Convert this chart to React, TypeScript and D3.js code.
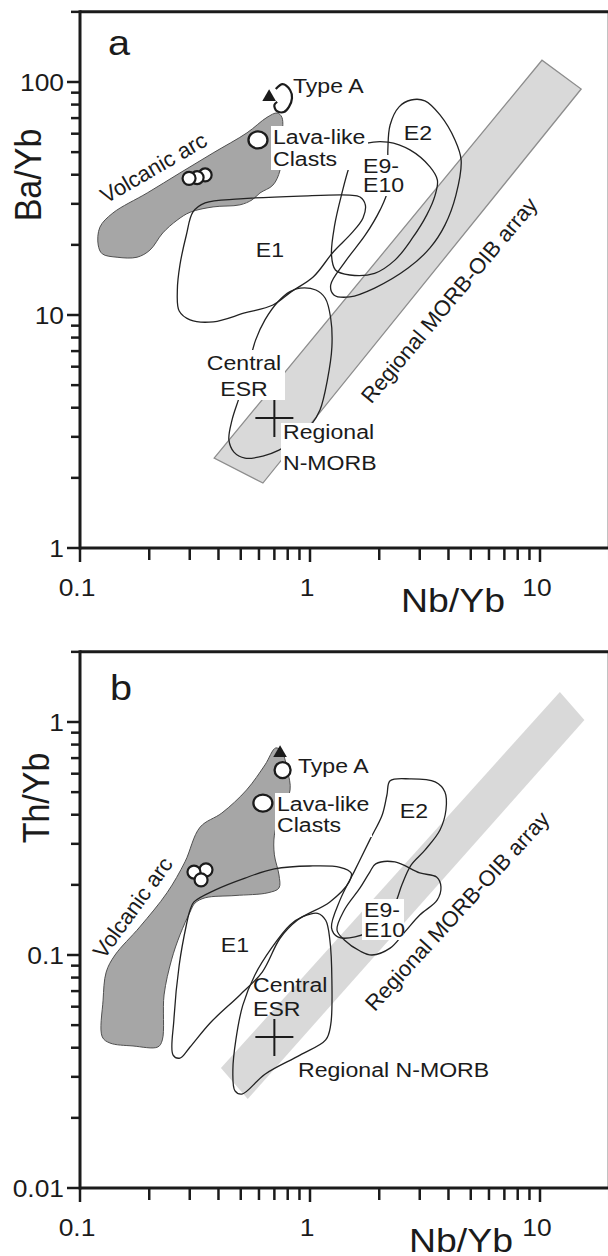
import React, { useRef, useEffect } from 'react';
import * as d3 from 'd3';

type Pt = [number, number];

// shared x axis
const nbYbDomain: [number, number] = [0.1, 20];
const nbYbLabels = [0.1, 1, 10];

// panel a: Ba/Yb
const baYbDomain: [number, number] = [1, 200];
const baYbLabels = [1, 10, 100];

// panel b: Th/Yb
const thYbDomain: [number, number] = [0.01, 2];
const thYbLabels = [0.01, 0.1, 1];

// ---- panel a fields  [Nb/Yb, Ba/Yb]
const morbArrayA: Pt[] = [[0.383, 2.43], [10.2, 124], [15.1, 93.3], [0.624, 1.9]];
const volcanicArcA: Pt[] = [
  [0.12, 19.97], [0.122, 23.8], [0.139, 27.4], [0.196, 33.4], [0.272, 40.7], [0.379, 49.6],
  [0.532, 60.5], [0.65, 70.5], [0.72, 73.6], [0.755, 70.5], [0.755, 56.4], [0.741, 41.9],
  [0.69, 36.1], [0.606, 33.4], [0.56, 31.2], [0.496, 29.7], [0.379, 29.1], [0.301, 27.6],
  [0.264, 25.5], [0.229, 22.5], [0.2015, 19.0], [0.177, 17.7], [0.145, 17.7], [0.125, 18.3],
];
const e1A: Pt[] = [
  [0.31, 27.7], [0.35, 30.3], [0.496, 31.5], [0.905, 32.4], [1.49, 32.7], [1.65, 32.1],
  [1.74, 29.7], [1.7, 26.1], [1.52, 22.5], [1.26, 18.6], [1.035, 14.6], [0.83, 12.6],
  [0.69, 11.04], [0.52, 10.2], [0.38, 9.35], [0.301, 9.53], [0.27, 10.4], [0.265, 12.8],
  [0.272, 16.4], [0.29, 22.05],
];
const e2A: Pt[] = [
  [2.75, 83.7], [3.16, 83], [3.675, 72.2], [4.27, 56.4], [4.54, 46.3], [4.31, 32.7],
  [3.86, 24.3], [3.325, 19.4], [2.67, 15.9], [1.91, 13.05], [1.49, 11.96], [1.27, 12.2],
  [1.23, 13.45], [1.42, 16.9], [1.74, 22.05], [2.015, 28.2], [2.18, 34.4], [2.18, 51.1],
  [2.23, 65.4], [2.44, 78.2],
];
const e910A: Pt[] = [
  [1.61, 52.1], [1.77, 54.6], [2.18, 55.2], [2.72, 51.1], [3.325, 43.2], [3.58, 37.9],
  [3.5, 32.7], [3.22, 26.9], [2.78, 21.3], [2.34, 17.2], [1.91, 15.1], [1.49, 14.85],
  [1.29, 15.6], [1.24, 18.1], [1.28, 24.3], [1.37, 32.7], [1.49, 44.0],
];
const centralEsrA: Pt[] = [
  [0.905, 13.05], [1.06, 12.8], [1.165, 11.8], [1.23, 9.71], [1.245, 7.29], [1.19, 5.26],
  [1.105, 3.91], [1.01, 3.37], [0.86, 2.91], [0.733, 2.63], [0.624, 2.48], [0.522, 2.43],
  [0.467, 2.58], [0.444, 2.91], [0.458, 3.54], [0.496, 4.53], [0.541, 6.09], [0.58, 7.8],
  [0.637, 9.53], [0.726, 11.4], [0.819, 12.6],
];
const typeALoopA: Pt[] = [
  [0.71, 93.3], [0.76, 98], [0.819, 92.4], [0.835, 85.3], [0.81, 78.2], [0.77, 74.3],
  [0.716, 75.1], [0.7, 79.7], [0.72, 82.1],
];
const typeATriA: Pt[] = [[0.664, 86.2]];
const typeACircleA: Pt[] = [];
const lavaClastsA: Pt[] = [[0.594, 56.4]];
const arcSamplesA: Pt[] = [[0.35, 39.9], [0.323, 38.9], [0.298, 38.6]];
const nMorbA: Pt = [0.7, 3.61];

// ---- panel b fields  [Nb/Yb, Th/Yb]
const morbArrayB: Pt[] = [[0.41, 0.0327], [12.2, 1.345], [15.6, 1.02], [0.536, 0.0241]];
const volcanicArcB: Pt[] = [
  [0.71, 0.774], [0.755, 0.743], [0.8, 0.611], [0.819, 0.511], [0.741, 0.399], [0.7, 0.327],
  [0.7, 0.269], [0.733, 0.2205], [0.733, 0.194], [0.657, 0.185], [0.472, 0.18], [0.35, 0.176],
  [0.316, 0.167], [0.301, 0.153], [0.272, 0.122], [0.25, 0.0953], [0.232, 0.0674], [0.228, 0.0432],
  [0.218, 0.0403], [0.17, 0.0407], [0.135, 0.0419], [0.125, 0.0445], [0.126, 0.064], [0.13, 0.0845],
  [0.142, 0.1], [0.182, 0.132], [0.239, 0.185], [0.286, 0.251], [0.333, 0.354], [0.414, 0.407],
  [0.53, 0.511], [0.637, 0.654],
];
const e1B: Pt[] = [
  [0.313, 0.169], [0.386, 0.19], [0.522, 0.214], [0.7, 0.234], [1.0, 0.241], [1.35, 0.238],
  [1.51, 0.225], [1.48, 0.206], [1.22, 0.169], [0.88, 0.141], [0.741, 0.118], [0.62, 0.0845],
  [0.496, 0.0674], [0.368, 0.0511], [0.301, 0.0403], [0.272, 0.0361], [0.254, 0.0372],
  [0.256, 0.0527], [0.27, 0.0906], [0.29, 0.1345], [0.301, 0.156],
];
const e2B: Pt[] = [
  [2.23, 0.559], [2.72, 0.57], [3.5, 0.553], [3.86, 0.501], [3.9, 0.419], [3.675, 0.344],
  [3.16, 0.282], [2.75, 0.243], [2.51, 0.2], [2.33, 0.164], [2.015, 0.1345], [1.57, 0.1196],
  [1.32, 0.1196], [1.24, 0.131], [1.35, 0.172], [1.57, 0.232], [1.82, 0.312], [2.06, 0.399],
  [2.16, 0.486],
];
const e910B: Pt[] = [
  [1.93, 0.246], [2.34, 0.251], [3.0, 0.225], [3.55, 0.216], [3.71, 0.196], [3.57, 0.172],
  [3.0, 0.1485], [2.59, 0.126], [2.23, 0.107], [1.86, 0.1], [1.65, 0.104], [1.41, 0.116],
  [1.31, 0.128], [1.41, 0.156], [1.65, 0.194], [1.82, 0.227],
];
const centralEsrB: Pt[] = [
  [0.93, 0.146], [1.08, 0.151], [1.17, 0.141], [1.22, 0.116], [1.245, 0.078], [1.23, 0.0501],
  [1.17, 0.0432], [0.905, 0.0372], [0.637, 0.0308], [0.506, 0.0253], [0.472, 0.0261],
  [0.462, 0.0321], [0.476, 0.0432], [0.51, 0.0608], [0.576, 0.0821], [0.68, 0.107], [0.819, 0.1345],
];
const typeATriB: Pt[] = [[0.741, 0.736]];
const typeACircleB: Pt[] = [[0.76, 0.622]];
const lavaClastsB: Pt[] = [[0.624, 0.449]];
const arcSamplesB: Pt[] = [[0.353, 0.232], [0.313, 0.227], [0.336, 0.21]];
const nMorbB: Pt = [0.7, 0.0445];

interface Lbl { t: string; x: number; y: number; size?: number; anchor?: string; rot?: number; mid?: boolean }

const panelA = {
  offset: 0,
  yDomain: baYbDomain,
  yLabels: baYbLabels,
  yTitle: 'Ba/Yb',
  yTitlePos: [41, 175],
  xTitleX: 401,
  band: morbArrayA,
  bandStroke: '#8d8d8d',
  arc: volcanicArcA,
  fields: [e1A, e2A, e910A, centralEsrA],
  loop: typeALoopA,
  tri: typeATriA,
  typeCircles: typeACircleA,
  lava: lavaClastsA,
  samples: arcSamplesA,
  cross: nMorbA,
  boxes: [[271, 126, 97, 44], [361, 155, 42, 41], [205, 350, 80, 50], [281, 423, 100, 52]],
  labels: [
    { t: 'a', x: 108, y: 55, size: 36 },
    { t: 'Type A', x: 293, y: 93 },
    { t: 'Lava-like', x: 273, y: 144 },
    { t: 'Clasts', x: 273, y: 166 },
    { t: 'Volcanic arc', x: 106, y: 204, rot: -30, size: 22 },
    { t: 'E1', x: 270, y: 257, anchor: 'middle' },
    { t: 'E2', x: 418, y: 140, anchor: 'middle' },
    { t: 'E9-', x: 363, y: 173 },
    { t: 'E10', x: 363, y: 192 },
    { t: 'Central', x: 244, y: 370, anchor: 'middle' },
    { t: 'ESR', x: 244, y: 396, anchor: 'middle' },
    { t: 'Regional', x: 283, y: 439 },
    { t: 'N-MORB', x: 283, y: 470 },
    { t: 'Regional MORB-OIB array', x: 449, y: 300, rot: -50, anchor: 'middle', mid: true, size: 22 },
  ] as Lbl[],
};

const panelB = {
  offset: 640,
  yDomain: thYbDomain,
  yLabels: thYbLabels,
  yTitle: 'Th/Yb',
  yTitlePos: [49, 158],
  xTitleX: 409,
  band: morbArrayB,
  bandStroke: 'none',
  arc: volcanicArcB,
  fields: [e1B, e2B, e910B, centralEsrB],
  loop: null,
  tri: typeATriB,
  typeCircles: typeACircleB,
  lava: lavaClastsB,
  samples: arcSamplesB,
  cross: nMorbB,
  boxes: [[275, 153, 97, 44], [362, 259, 42, 41]],
  labels: [
    { t: 'b', x: 110, y: 60, size: 36 },
    { t: 'Type A', x: 298, y: 133 },
    { t: 'Lava-like', x: 277, y: 171 },
    { t: 'Clasts', x: 277, y: 192 },
    { t: 'Volcanic arc', x: 104, y: 320, rot: -54, size: 22 },
    { t: 'E1', x: 235, y: 312, anchor: 'middle' },
    { t: 'E2', x: 414, y: 178, anchor: 'middle' },
    { t: 'E9-', x: 364, y: 277 },
    { t: 'E10', x: 364, y: 297 },
    { t: 'Central', x: 253, y: 352 },
    { t: 'ESR', x: 253, y: 376 },
    { t: 'Regional N-MORB', x: 298, y: 437 },
    { t: 'Regional MORB-OIB array', x: 457, y: 271, rot: -47.5, anchor: 'middle', mid: true, size: 22 },
  ] as Lbl[],
};

const X0 = 80, XDEC = 230, YB = 548, YDEC = 233;
const INK = '#1b1b1b';
const STRETCH = 'scale(1.1,1)'; // the source figure's type is a little wide

function drawPanel(svg: any, p: any) {
  const x = d3.scaleLog().domain(nbYbDomain).range([X0, X0 + XDEC * Math.log10(nbYbDomain[1] / nbYbDomain[0])]);
  const y = d3.scaleLog().domain(p.yDomain).range([YB, YB - YDEC * Math.log10(p.yDomain[1] / p.yDomain[0])]);
  const g = svg.append('g').attr('transform', `translate(0,${p.offset})`);

  const closed = d3.line<Pt>().x(d => x(d[0])).y(d => y(d[1])).curve(d3.curveLinearClosed);
  const smooth = d3.line<Pt>().x(d => x(d[0])).y(d => y(d[1])).curve(d3.curveCatmullRomClosed.alpha(0.5));
  const open = d3.line<Pt>().x(d => x(d[0])).y(d => y(d[1])).curve(d3.curveCatmullRom.alpha(0.5));

  g.append('path').attr('d', closed(p.band)).attr('fill', '#d9d9d9')
    .attr('stroke', p.bandStroke).attr('stroke-width', 1.3);
  g.append('path').attr('d', smooth(p.arc)).attr('fill', '#a6a6a6')
    .attr('stroke', '#505050').attr('stroke-width', 1);
  g.selectAll('path.field').data(p.fields).join('path').attr('class', 'field')
    .attr('d', (d: Pt[]) => smooth(d)).attr('fill', 'none').attr('stroke', '#222').attr('stroke-width', 1.3);
  if (p.loop) {
    g.append('path').attr('d', open(p.loop)).attr('fill', 'none').attr('stroke', INK).attr('stroke-width', 2.2);
  }

  // regional N-MORB cross
  const cx = x(p.cross[0]), cy = y(p.cross[1]);
  g.append('path').attr('d', `M${cx - 19},${cy}H${cx + 19}M${cx},${cy - 18}V${cy + 19}`)
    .attr('stroke', INK).attr('stroke-width', 2);

  // label boxes and labels
  g.selectAll('rect.bg').data(p.boxes).join('rect').attr('class', 'bg')
    .attr('x', (d: number[]) => d[0]).attr('y', (d: number[]) => d[1])
    .attr('width', (d: number[]) => d[2]).attr('height', (d: number[]) => d[3]).attr('fill', '#fff');
  g.selectAll('text.lbl').data(p.labels).join('text').attr('class', 'lbl')
    .attr('transform', (d: Lbl) => `translate(${d.x},${d.y}) ${d.rot ? `rotate(${d.rot})` : STRETCH}`)
    .attr('text-anchor', (d: Lbl) => d.anchor || 'start')
    .attr('dy', (d: Lbl) => (d.mid ? '0.35em' : null))
    .attr('font-size', (d: Lbl) => d.size || 21)
    .attr('fill', INK)
    .text((d: Lbl) => d.t);

  // samples
  const tri = d3.symbol().type(d3.symbolTriangle).size(80);
  g.selectAll('path.tri').data(p.tri).join('path').attr('class', 'tri')
    .attr('d', tri).attr('transform', (d: Pt) => `translate(${x(d[0])},${y(d[1])})`).attr('fill', INK);
  g.selectAll('circle.ta').data(p.typeCircles).join('circle').attr('class', 'ta')
    .attr('cx', (d: Pt) => x(d[0])).attr('cy', (d: Pt) => y(d[1])).attr('r', 8)
    .attr('fill', '#fff').attr('stroke', INK).attr('stroke-width', 2.3);
  g.selectAll('ellipse.lava').data(p.lava).join('ellipse').attr('class', 'lava')
    .attr('cx', (d: Pt) => x(d[0])).attr('cy', (d: Pt) => y(d[1])).attr('rx', 9.5).attr('ry', 8.5)
    .attr('fill', '#fff').attr('stroke', INK).attr('stroke-width', 2.3);
  g.selectAll('circle.smp').data(p.samples).join('circle').attr('class', 'smp')
    .attr('cx', (d: Pt) => x(d[0])).attr('cy', (d: Pt) => y(d[1])).attr('r', 6.5)
    .attr('fill', '#fff').attr('stroke', INK).attr('stroke-width', 2.2);

  // frame + axes
  const [yBot, yTop] = y.range();
  const [xL, xR] = x.range();
  g.append('path').attr('d', `M${xL},${yTop}H${xR}V${yBot}`).attr('fill', 'none').attr('stroke', INK).attr('stroke-width', 3);
  g.append('line').attr('x1', xL).attr('x2', xL).attr('y1', yTop - 1.5).attr('y2', yBot + 1.5)
    .attr('stroke', INK).attr('stroke-width', 3);
  g.append('line').attr('x1', xL).attr('x2', xR).attr('y1', yBot).attr('y2', yBot)
    .attr('stroke', INK).attr('stroke-width', 3);

  const isMajor = (v: number) => Math.abs(Math.log10(v) - Math.round(Math.log10(v))) < 1e-6;
  g.selectAll('line.yt').data(y.ticks()).join('line').attr('class', 'yt')
    .attr('x1', (d: number) => xL - (isMajor(d) ? 13 : 9)).attr('x2', xL)
    .attr('y1', (d: number) => y(d)).attr('y2', (d: number) => y(d))
    .attr('stroke', INK).attr('stroke-width', 2.5);
  g.selectAll('line.xt').data(x.ticks()).join('line').attr('class', 'xt')
    .attr('x1', (d: number) => x(d)).attr('x2', (d: number) => x(d))
    .attr('y1', yBot).attr('y2', (d: number) => yBot + (isMajor(d) ? 14 : 12))
    .attr('stroke', INK).attr('stroke-width', 2.5);

  g.selectAll('text.yl').data(p.yLabels).join('text').attr('class', 'yl')
    .attr('transform', (d: number) => `translate(64,${y(d)}) ${STRETCH}`).attr('dy', '0.36em')
    .attr('text-anchor', 'end').attr('font-size', 24).attr('fill', INK).text((d: number) => String(d));
  g.selectAll('text.xl').data(nbYbLabels).join('text').attr('class', 'xl')
    .attr('transform', (d: number) => `translate(${x(d) - 3},${yBot + 48}) ${STRETCH}`)
    .attr('text-anchor', 'middle').attr('font-size', 24).attr('fill', INK).text((d: number) => String(d));

  g.append('text').attr('transform', `translate(${p.xTitleX},${yBot + 64}) ${STRETCH}`)
    .attr('font-size', 34).attr('fill', INK).text('Nb/Yb');
  g.append('text').attr('transform', `translate(${p.yTitlePos[0]},${p.yTitlePos[1]}) ${STRETCH} rotate(-90)`)
    .attr('text-anchor', 'middle').attr('font-size', 34).attr('fill', INK).text(p.yTitle);
}

export default function App() {
  const ref = useRef<SVGSVGElement>(null);

  useEffect(() => {
    const svg = d3.select(ref.current);
    svg.selectAll('*').remove();
    drawPanel(svg, panelA);
    drawPanel(svg, panelB);
  }, []);

  return (
    <svg ref={ref} width={608} height={1256}
      style={{ position: 'absolute', left: 0, top: 0, background: '#fff' }}
      fontFamily="'Liberation Sans', Arial, Helvetica, sans-serif" />
  );
}
